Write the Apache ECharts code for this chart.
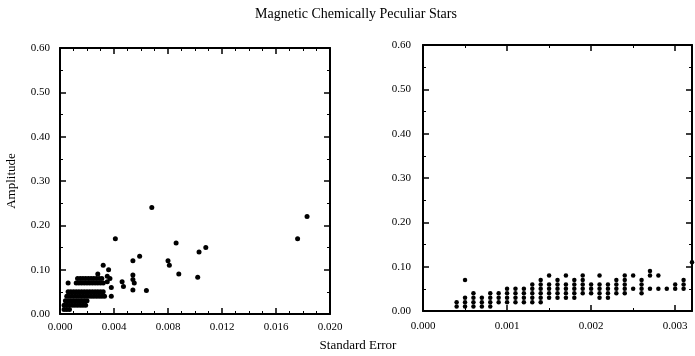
<!DOCTYPE html>
<html>
<head>
<meta charset="utf-8">
<title>Magnetic Chemically Peculiar Stars</title>
<script src="https://cdn.jsdelivr.net/npm/echarts@6/dist/echarts.min.js"></script>
<style>
  html, body { margin: 0; padding: 0; background: #fff; }
  #chart { width: 695px; height: 356px; }
</style>
</head>
<body>
<div id="chart"></div>
<script type="text/javascript">
// ---- data ----
// left panel: dense band of stars near the origin, one row per amplitude level
const clusterAmp = [0.01, 0.02, 0.03, 0.04, 0.05, 0.07, 0.08];
const clusterErr = [
  [0.0003, 0.0005, 0.0007],
  [0.0003, 0.0005, 0.0007, 0.0009, 0.0011, 0.0013, 0.0015, 0.0017, 0.0019],
  [0.0004, 0.0006, 0.0008, 0.0010, 0.0012, 0.0014, 0.0016, 0.0018, 0.0020],
  [0.0005, 0.0007, 0.0009, 0.0011, 0.0013, 0.0015, 0.0017, 0.0019, 0.0021, 0.0023, 0.0025, 0.0027, 0.0029, 0.0031, 0.0033],
  [0.0006, 0.0008, 0.0010, 0.0012, 0.0014, 0.0016, 0.0018, 0.0020, 0.0022, 0.0024, 0.0026, 0.0028, 0.0030, 0.0032],
  [0.0012, 0.0014, 0.0016, 0.0018, 0.0020, 0.0022, 0.0024, 0.0026, 0.0028, 0.0030, 0.0032],
  [0.0013, 0.0015, 0.0017, 0.0019, 0.0021, 0.0023, 0.0025, 0.0027, 0.0029, 0.0031]
];
// left panel: scattered stars
const looseErr = [0.0006, 0.0037, 0.0038, 0.0038, 0.0032, 0.0036, 0.0028, 0.0035, 0.0035, 0.0046, 0.0047,
  0.0041, 0.0068, 0.0086, 0.0108, 0.0103, 0.0059, 0.0054, 0.0080, 0.0081, 0.0088, 0.0102,
  0.0054, 0.0054, 0.0055, 0.0064, 0.0054, 0.0176, 0.0183];
const looseAmp = [0.07, 0.08, 0.06, 0.04, 0.11, 0.10, 0.09, 0.085, 0.073, 0.073, 0.062,
  0.17, 0.24, 0.16, 0.15, 0.14, 0.13, 0.12, 0.12, 0.11, 0.09, 0.083,
  0.088, 0.078, 0.07, 0.053, 0.054, 0.17, 0.22];
// right panel: columns of stars (standard error -> amplitudes)
const rightErr = [0.0004, 0.0005, 0.0006, 0.0007, 0.0008, 0.0009, 0.0010, 0.0011, 0.0012, 0.0013,
  0.0014, 0.0015, 0.0016, 0.0017, 0.0018, 0.0019, 0.0020, 0.0021, 0.0022, 0.0023,
  0.0024, 0.0025, 0.0026, 0.0027, 0.0028, 0.0029, 0.0030, 0.0031, 0.0032];
const rightAmp = [
  [0.01, 0.02], [0.01, 0.02, 0.03, 0.07], [0.01, 0.02, 0.03, 0.04], [0.01, 0.02, 0.03],
  [0.01, 0.02, 0.03, 0.04], [0.02, 0.03, 0.04], [0.02, 0.03, 0.04, 0.05], [0.02, 0.03, 0.04, 0.05],
  [0.02, 0.03, 0.04, 0.05], [0.02, 0.03, 0.04, 0.05, 0.06], [0.02, 0.03, 0.04, 0.05, 0.06, 0.07],
  [0.03, 0.04, 0.05, 0.06, 0.08], [0.03, 0.04, 0.05, 0.06, 0.07], [0.03, 0.04, 0.05, 0.06, 0.08],
  [0.03, 0.04, 0.05, 0.06, 0.07], [0.04, 0.05, 0.06, 0.07, 0.08], [0.04, 0.05, 0.06],
  [0.03, 0.04, 0.05, 0.06, 0.08], [0.03, 0.04, 0.05, 0.06], [0.04, 0.05, 0.06, 0.07],
  [0.04, 0.05, 0.06, 0.07, 0.08], [0.05, 0.08], [0.04, 0.05, 0.06, 0.07], [0.05, 0.08, 0.09],
  [0.05, 0.08], [0.05], [0.05, 0.06], [0.05, 0.06, 0.07], [0.11]
];
const ampTicks = { min: 0, max: 0.6, interval: 0.1 };

// ---- build point lists ----
let leftPoints = [];
clusterAmp.forEach((a, i) => clusterErr[i].forEach(e => leftPoints.push([e, a])));
looseErr.forEach((e, i) => leftPoints.push([e, looseAmp[i]]));
let rightPoints = [];
rightErr.forEach((e, i) => rightAmp[i].forEach(a => rightPoints.push([e, a])));

const FONT = "'Liberation Serif', 'DejaVu Serif', serif";

// axis for one side of a box; main = with labels
function boxAxis(grid, pos, range, minorSplit, main, fmt, margin) {
  return {
    type: "value",
    gridIndex: grid,
    position: pos,
    min: range.min,
    max: range.max,
    interval: range.interval,
    axisLine: { show: true, onZero: false, lineStyle: { color: "#000", width: 2 } },
    axisTick: { show: true, inside: true, length: 6, lineStyle: { color: "#000", width: 1.5 } },
    minorTick: { show: true, splitNumber: minorSplit, length: 3, lineStyle: { color: "#000", width: 1 } },
    splitLine: { show: false },
    axisLabel: {
      show: main,
      color: "#000",
      fontFamily: FONT,
      fontSize: 11,
      margin: margin,
      formatter: fmt
    }
  };
}

const fmt3 = v => (Math.abs(v * 1000 - Math.round(v * 1000)) < 1e-6 ? v.toFixed(3) : "");
const fmt2 = v => v.toFixed(2);
const leftX = { min: 0, max: 0.02, interval: 0.004 };
const rightX = { min: 0, max: 0.0032, interval: 0.001 };

let chart = echarts.init(document.getElementById("chart"));
let option = {
  animation: false,
  backgroundColor: "#fff",
  title: {
    text: "Magnetic Chemically Peculiar Stars",
    left: 351,
    textAlign: "center",
    top: 2,
    textStyle: { fontFamily: FONT, fontWeight: "normal", fontSize: 14, color: "#000" }
  },
  grid: [
    { left: 60, top: 48, width: 270, height: 266 },
    { left: 423, top: 45, width: 270, height: 266 }
  ],
  xAxis: [
    boxAxis(0, "bottom", leftX, 4, true, fmt3, 8),
    boxAxis(0, "top", leftX, 4, false),
    boxAxis(1, "bottom", rightX, 2, true, fmt3, 10),
    boxAxis(1, "top", rightX, 2, false)
  ],
  yAxis: [
    Object.assign(boxAxis(0, "left", ampTicks, 2, true, fmt2, 10), {
      name: "Amplitude",
      nameLocation: "middle",
      nameGap: 42,
      nameTextStyle: { fontFamily: FONT, fontSize: 13, color: "#000" }
    }),
    boxAxis(0, "right", ampTicks, 2, false),
    boxAxis(1, "left", ampTicks, 2, true, fmt2, 12),
    boxAxis(1, "right", ampTicks, 2, false)
  ],
  graphic: [
    {
      type: "text",
      x: 358,
      y: 346,
      style: {
        text: "Standard Error",
        fontFamily: FONT,
        fontSize: 13,
        fill: "#000",
        textAlign: "center",
        textVerticalAlign: "middle"
      }
    }
  ],
  series: [
    {
      type: "scatter",
      xAxisIndex: 0,
      yAxisIndex: 0,
      symbol: "circle",
      symbolSize: 5,
      itemStyle: { color: "#000", opacity: 1 },
      data: leftPoints
    },
    {
      type: "scatter",
      xAxisIndex: 2,
      yAxisIndex: 2,
      symbol: "circle",
      symbolSize: 4.5,
      itemStyle: { color: "#000", opacity: 1 },
      clip: false,
      data: rightPoints
    }
  ]
};
chart.setOption(option);
</script>
</body>
</html>
